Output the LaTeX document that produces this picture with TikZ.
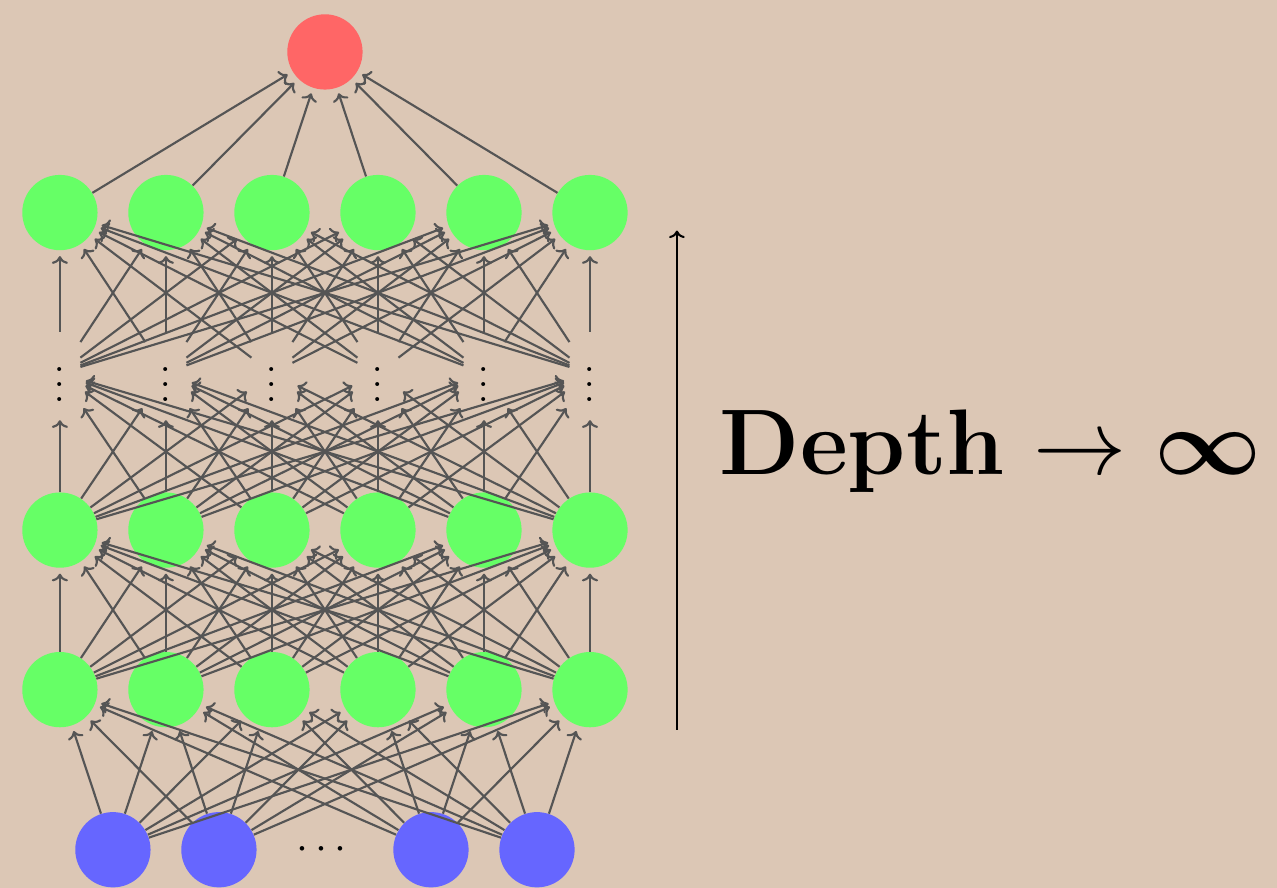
\documentclass[tikz,border=0pt]{standalone}
\usepackage{amsmath,amssymb}
\usepackage{xcolor}
\usepackage{tikz}
\usetikzlibrary{arrows.meta, positioning}
\definecolor{Sand}{RGB}{220, 199, 181}
\definecolor{NodeGreen}{RGB}{102, 255, 102}
\definecolor{NodeRed}{RGB}{255, 102, 102}
\definecolor{NodeBlue}{RGB}{102, 102, 255}
\definecolor{EdgeGray}{RGB}{85, 85, 85}

\begin{document}
\begin{tikzpicture}[
        >=To,
        neuron/.style={circle, minimum size=1.42cm, inner sep=0pt},
        hidden/.style={neuron, fill=NodeGreen},
        input/.style={neuron, fill=NodeBlue},
        output/.style={neuron, fill=NodeRed},
        skip/.style={minimum width=0.76cm, minimum height=1.55cm, inner sep=0pt},
        edge/.style={->, line width=1.15pt, EdgeGray, shorten >=3pt}
    ]

    % Background
    \fill[Sand] (0,0) rectangle (24.09,16.75);
    \useasboundingbox (0,0) rectangle (24.09,16.75);

    % Input layer
    \node[input] (in1) at (2.13, 0.72) {};
    \node[input] (in2) at (4.13, 0.72) {};
    \node (indots) at (6.13, 0.72) {\scalebox{2.3}{$\cdots$}};
    \node[input] (in3) at (8.13, 0.72) {};
    \node[input] (in4) at (10.13, 0.72) {};

    % Hidden layers
    \foreach \i in {1,...,6} {
        \node[hidden] (a\i) at ({2*\i-0.87}, 3.74) {};
        \node[hidden] (b\i) at ({2*\i-0.87}, 6.75) {};
        \node[skip] (v\i) at ({2*\i-0.87}, 9.71) {\scalebox{2}{$\vdots$}};
        \node[hidden] (c\i) at ({2*\i-0.87}, 12.74) {};
    }

    % Output
    \node[output] (out) at (6.13, 15.77) {};

    % Connections
    \foreach \j in {1,...,4}
        \foreach \i in {1,...,6}
            \draw[edge] (in\j) -- (a\i);
    \foreach \j in {1,...,6} {
        \foreach \i in {1,...,6} {
            \draw[edge] (a\j) -- (b\i);
            \draw[edge] (b\j) -- (v\i);
            \draw[edge] (v\j) -- (c\i);
        }
        \draw[edge] (c\j) -- (out);
    }

    % Depth arrow and label
    \coordinate (depthlow) at (12.77, 2.98);
    \coordinate (depthhigh) at (12.77, 12.40);
    \draw[->, line width=1.1pt] (depthlow) -- (depthhigh);
    \node[anchor=base west, inner sep=0pt, font=\fontsize{50}{60}\selectfont] (depth) at (13.57, 7.79)
        {\textbf{Depth} \scalebox{5}{\normalsize$\rightarrow$} \scalebox{5}{\normalsize\boldmath$\infty$}};

\end{tikzpicture}
\end{document}
